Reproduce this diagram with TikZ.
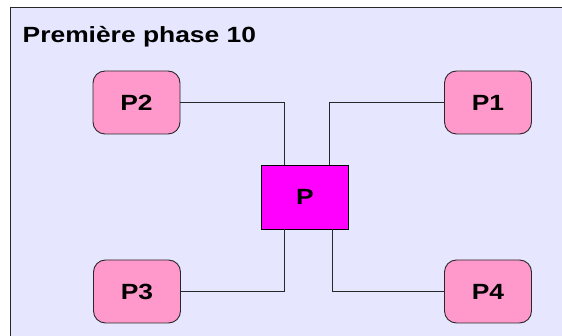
\documentclass[tikz,border=0pt]{standalone}
\usepackage{fontspec}
\usepackage{graphicx}
\setmainfont{Liberation Sans}
\definecolor{bgcol}{RGB}{230,230,255}
\definecolor{pinkcol}{RGB}{255,153,204}
\definecolor{magcol}{RGB}{255,0,255}
\definecolor{linecol}{RGB}{40,40,40}
\newcommand{\wtxt}[1]{\scalebox{1.2}[1]{#1}}
\tikzset{
  pbox/.style={draw=linecol, line width=0.9pt, fill=pinkcol, rounded corners=12pt,
    minimum width=87pt, minimum height=63pt, inner sep=0pt,
    font=\fontsize{22}{25}\selectfont\bfseries},
  cbox/.style={draw=black, line width=0.9pt, fill=magcol,
    minimum width=87.5pt, minimum height=64pt, inner sep=0pt,
    font=\fontsize{22}{25}\selectfont\bfseries},
  conn/.style={draw=linecol, line width=0.7pt},
  frame/.style={draw=linecol, line width=1.6pt, fill=bgcol}
}
\begin{document}
\begin{tikzpicture}[x=1pt,y=-1pt]
\useasboundingbox (0,0) rectangle (562,336);
\clip (0,0) rectangle (562,336);
\fill[white] (0,0) rectangle (562,336);
\path[frame] (10.5,7.5) rectangle (600,400);
\node[anchor=base west, inner sep=0pt, font=\fontsize{22}{25}\selectfont\bfseries] (title) at (22.5,42.5) {\wtxt{Première phase 10}};
\node[pbox] (P2) at (136.5,102.5) {\wtxt{P2}};
\node[pbox] (P1) at (488,102.5) {\wtxt{P1}};
\node[pbox] (P3) at (137,291.5) {\wtxt{P3}};
\node[pbox] (P4) at (488,291.5) {\wtxt{P4}};
\node[cbox] (P) at (305,197) {\wtxt{P}};
\coordinate (t2) at ([xshift=23.5pt]P.north west);
\coordinate (t1) at ([xshift=-19.5pt]P.north east);
\coordinate (b3) at ([xshift=23.5pt]P.south west);
\coordinate (b4) at ([xshift=-17pt]P.south east);
\draw[conn] (P2.east) -| (t2);
\draw[conn] (P1.west) -| (t1);
\draw[conn] (P3.east) -| (b3);
\draw[conn] (P4.west) -| (b4);
\end{tikzpicture}
\end{document}
